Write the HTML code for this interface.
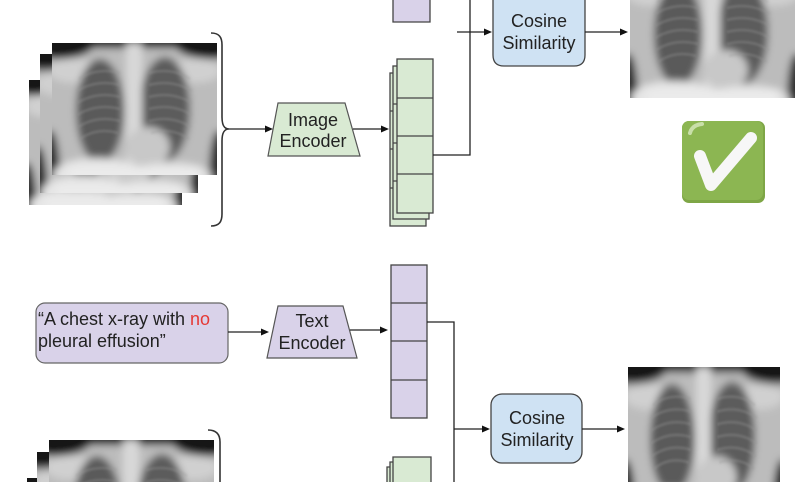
<!DOCTYPE html>
<html><head><meta charset="utf-8"><style>html,body{margin:0;padding:0;background:#fff;width:800px;height:482px;overflow:hidden}svg{display:block}</style></head>
<body>
<svg width="800" height="482" viewBox="0 0 800 482" xmlns="http://www.w3.org/2000/svg" xmlns:xlink="http://www.w3.org/1999/xlink" overflow="hidden">
<defs>
<filter id="b" x="-20%" y="-20%" width="140%" height="140%"><feGaussianBlur stdDeviation="4"/></filter>
<filter id="b1" x="-20%" y="-20%" width="140%" height="140%"><feGaussianBlur stdDeviation="1"/></filter>
<clipPath id="xc"><rect width="165" height="132"/></clipPath>
<g id="xrg">
<g clip-path="url(#xc)">
<g filter="url(#b)">
<rect x="-15" y="-15" width="195" height="162" fill="#bcbcbc"/>
<rect x="-15" y="-15" width="195" height="20" fill="#141414"/>
<ellipse cx="5" cy="0" rx="38" ry="16" fill="#161616"/>
<ellipse cx="160" cy="0" rx="38" ry="16" fill="#161616"/>
<ellipse cx="22" cy="28" rx="26" ry="12" fill="#d0d0d0"/>
<ellipse cx="143" cy="28" rx="26" ry="12" fill="#d0d0d0"/>
<ellipse cx="-2" cy="132" rx="10" ry="45" fill="#2a2a2a"/>
<ellipse cx="167" cy="132" rx="10" ry="45" fill="#2a2a2a"/>
<ellipse cx="48" cy="68" rx="24" ry="52" fill="#5a5a5a"/>
<ellipse cx="113" cy="66" rx="25" ry="52" fill="#5c5c5c"/>
<rect x="74" y="0" width="16" height="132" fill="#d8d8d8"/>
<ellipse cx="96" cy="104" rx="22" ry="20" fill="#c8c8c8"/>
<ellipse cx="45" cy="132" rx="44" ry="17" fill="#e6e6e6"/>
<ellipse cx="118" cy="134" rx="42" ry="15" fill="#e0e0e0"/>
<rect x="18" y="124" width="130" height="20" fill="#ebebeb"/>
</g>
<g stroke="#9a9a9a" stroke-width="2.5" fill="none" opacity="0.35" filter="url(#b1)">
<path d="M27 36 Q45 24 68 30 M25 48 Q45 36 68 42 M25 60 Q45 48 68 54 M25 72 Q45 60 68 66 M26 84 Q45 72 68 78 M28 96 Q45 84 66 90"/>
<path d="M138 36 Q120 24 97 30 M140 48 Q120 36 97 42 M140 60 Q120 48 97 54 M140 72 Q120 60 97 66 M139 84 Q120 72 97 78 M137 96 Q120 84 99 90"/>
</g>
</g>
</g>
</defs>

<!-- top-left x-ray stack -->
<svg x="29" y="80" width="153" height="125" viewBox="0 0 165 132" preserveAspectRatio="none"><use xlink:href="#xrg" href="#xrg"/></svg>
<svg x="40" y="54" width="158" height="139" viewBox="0 0 165 132" preserveAspectRatio="none"><use xlink:href="#xrg" href="#xrg"/></svg>
<svg x="52" y="43" width="165" height="132" viewBox="0 0 165 132" preserveAspectRatio="none"><use xlink:href="#xrg" href="#xrg"/></svg>

<!-- top-right x-ray -->
<svg x="630" y="0" width="165" height="98" viewBox="0 34 165 98" preserveAspectRatio="none"><use xlink:href="#xrg" href="#xrg"/></svg>
<!-- bottom-right x-ray -->
<svg x="628" y="367" width="152" height="115" viewBox="0 0 165 108.4" preserveAspectRatio="none"><use xlink:href="#xrg" href="#xrg"/></svg>
<!-- bottom-left stack -->
<svg x="27" y="478" width="153" height="4" viewBox="0 0 165 4.2" preserveAspectRatio="none"><use xlink:href="#xrg" href="#xrg"/></svg>
<svg x="37" y="452" width="158" height="30" viewBox="0 0 165 28.5" preserveAspectRatio="none"><use xlink:href="#xrg" href="#xrg"/></svg>
<svg x="49" y="440" width="165" height="42" viewBox="0 0 165 42" preserveAspectRatio="none"><use xlink:href="#xrg" href="#xrg"/></svg>

<!-- braces -->
<g fill="none" stroke="#333" stroke-width="1.6">
<path d="M211 33 C219 33 222 37 222 45 L222 117 C222 125 224 129 229 129 C224 129 222 133 222 141 L222 214 C222 222 219 226 211 226"/>
<path d="M208 430 C216 430 220 434 220 442 L220 482"/>
</g>

<!-- encoders -->
<polygon points="278,103 345,103 360,156 268,156" fill="#d9ead3" stroke="#555" stroke-width="1.2"/>
<polygon points="278,306 343,306 357,358 267,358" fill="#d9d2e9" stroke="#555" stroke-width="1.2"/>

<!-- text prompt box -->
<rect x="36" y="303" width="192" height="60" rx="9" fill="#d9d2e9" stroke="#666" stroke-width="1.2"/>

<!-- cosine boxes -->
<path d="M493 0 L493 55 Q493 66 504 66 L574 66 Q585 66 585 55 L585 0" fill="#cfe2f3" stroke="#444" stroke-width="1.3"/>
<rect x="491" y="394" width="91" height="69" rx="11" fill="#cfe2f3" stroke="#444" stroke-width="1.3"/>

<!-- purple top box (cropped) -->
<path d="M393 0 V22 H430 V0" fill="#d9d2e9" stroke="#444" stroke-width="1.3"/>

<!-- green stack top -->
<g fill="#d9ead3" stroke="#444" stroke-width="1.3">
<rect x="390" y="73" width="36" height="153"/>
<line x1="390" y1="111" x2="426" y2="111"/><line x1="390" y1="149" x2="426" y2="149"/><line x1="390" y1="188" x2="426" y2="188"/>
<rect x="393" y="66" width="36" height="153"/>
<line x1="393" y1="104" x2="429" y2="104"/><line x1="393" y1="143" x2="429" y2="143"/><line x1="393" y1="181" x2="429" y2="181"/>
<rect x="397" y="59" width="36" height="154"/>
<line x1="397" y1="98" x2="433" y2="98"/><line x1="397" y1="136" x2="433" y2="136"/><line x1="397" y1="174" x2="433" y2="174"/>
</g>

<!-- green stack bottom -->
<g fill="#d9ead3" stroke="#444" stroke-width="1.3">
<path d="M387 482 V467 H423 V482"/>
<path d="M390 482 V462 H426 V482"/>
<path d="M393 482 V457 H431 V482"/>
</g>

<!-- purple stack -->
<g fill="#d9d2e9" stroke="#444" stroke-width="1.3">
<rect x="391" y="265" width="36" height="153"/>
<line x1="391" y1="303" x2="427" y2="303"/><line x1="391" y1="341" x2="427" y2="341"/><line x1="391" y1="380" x2="427" y2="380"/>
</g>

<!-- connectors -->
<g fill="none" stroke="#222" stroke-width="1.3">
<polyline points="433,155 470,155 470,0"/>
<polyline points="427,322 454,322 454,482"/>
<line x1="229" y1="129" x2="266" y2="129"/>
<line x1="353" y1="129" x2="382" y2="129"/>
<line x1="457" y1="32" x2="485" y2="32"/>
<line x1="585" y1="32" x2="621" y2="32"/>
<line x1="228" y1="332" x2="262" y2="332"/>
<line x1="350" y1="330" x2="381" y2="330"/>
<line x1="454" y1="429" x2="483" y2="429"/>
<line x1="582" y1="429" x2="618" y2="429"/>
</g>
<g fill="#111">
<polygon points="265,125.5 273,129 265,132.5"/>
<polygon points="381,125.5 389,129 381,132.5"/>
<polygon points="484,28.5 492,32 484,35.5"/>
<polygon points="620,28.5 628,32 620,35.5"/>
<polygon points="261,328.5 269,332 261,335.5"/>
<polygon points="380,326.5 388,330 380,333.5"/>
<polygon points="482,425.5 490,429 482,432.5"/>
<polygon points="617,425.5 625,429 617,432.5"/>
</g>

<!-- labels -->
<g font-family="'Liberation Sans', Arial, sans-serif" font-size="18" fill="#222" text-anchor="middle">
<text x="313" y="126">Image</text>
<text x="313" y="147">Encoder</text>
<text x="312" y="327">Text</text>
<text x="312" y="349">Encoder</text>
<text x="539" y="27">Cosine</text>
<text x="539" y="49">Similarity</text>
<text x="537" y="424">Cosine</text>
<text x="537" y="446">Similarity</text>
</g>
<g font-family="'Liberation Sans', Arial, sans-serif" font-size="18" fill="#222">
<text x="38" y="325">“A chest x-ray with <tspan fill="#e53935">no</tspan></text>
<text x="38" y="347">pleural effusion”</text>
</g>

<!-- check mark -->
<rect x="682" y="121" width="83" height="82" rx="7" fill="#7ea646"/>
<rect x="682" y="121" width="81" height="79" rx="7" fill="#8cb652"/>
<path d="M690 133 Q692 125 702 124" stroke="#c9dfa9" stroke-width="4" fill="none" stroke-linecap="round"/>
<polyline points="700,156 711,185 751,138" fill="none" stroke="#f7f7f7" stroke-width="12" stroke-linecap="round" stroke-linejoin="round"/>
</svg>
</body></html>
